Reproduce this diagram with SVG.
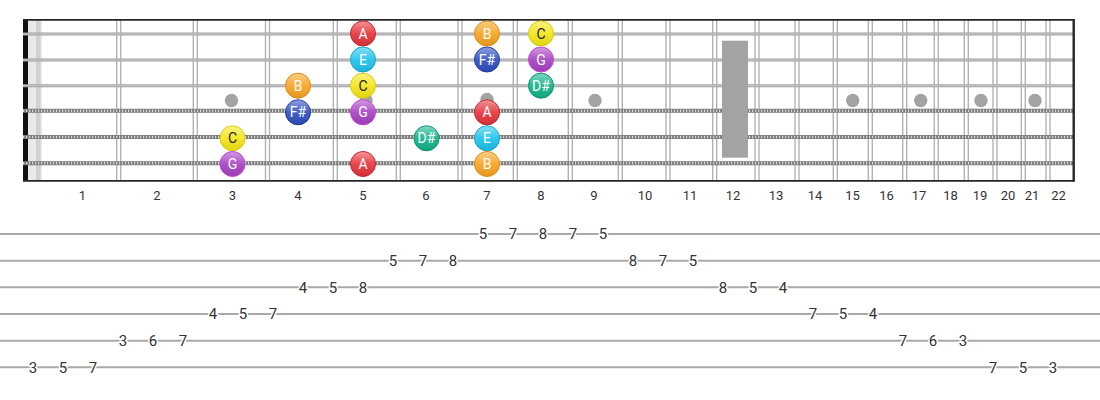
<svg xmlns="http://www.w3.org/2000/svg" width="1100" height="400" viewBox="0 0 1100 400">
<style>
.fret{stroke:#b3b3b3;stroke-width:1.4;fill:none}
.plain{stroke:#a2a2a2;stroke-width:3}
.plainhi{stroke:#d2d2d2;stroke-width:0.9}
.wound{stroke:#7a7a7a;stroke-width:4}
.woundhi{stroke:#d6d6d6;stroke-width:2.4;stroke-dasharray:1.2 1.8}
.inlay{fill:#a3a3a3}
.fnum{font-family:Roboto,"Liberation Sans",sans-serif;font-size:13px;fill:#333;text-anchor:middle}
.tabline{stroke:#a9a9a9;stroke-width:2}
.tab{font-family:Roboto,"Liberation Sans",sans-serif;font-size:15px;fill:#333;text-anchor:middle;stroke:#fff;stroke-width:3;paint-order:stroke}
.nt{font-family:Roboto,"Liberation Sans",sans-serif;font-size:14px;fill:#fff;text-anchor:middle}
.nt.dk{fill:#222}
.gloss{fill:url(#gl)}
.cA{fill:#e6363d;stroke:#c0242b;stroke-width:1}
.cB{fill:#f7a423;stroke:#dd8a10;stroke-width:1}
.cC{fill:#f4e619;stroke:#d8ca08;stroke-width:1}
.cE{fill:#20c2ec;stroke:#0fa3cc;stroke-width:1}
.cF{fill:#3150c2;stroke:#22379a;stroke-width:1}
.cG{fill:#a743c4;stroke:#cf3fd2;stroke-width:1}
.cD{fill:#14b38b;stroke:#0b9270;stroke-width:1}
</style>
<defs>
<linearGradient id="gl" x1="0" y1="0" x2="0" y2="1">
<stop offset="0" stop-color="#fff" stop-opacity="0.45"/>
<stop offset="0.5" stop-color="#fff" stop-opacity="0.08"/>
<stop offset="1" stop-color="#000" stop-opacity="0.08"/>
</linearGradient>
</defs>
<rect width="1100" height="400" fill="#fff"/>
<g id="fretboard">
<rect x="28" y="20" width="14" height="160" fill="#e9e9e9"/>
<rect x="36" y="20" width="4.5" height="160" fill="#d2d2d2"/>
<rect x="23" y="19" width="5" height="162" fill="#111"/>
<g id="frets">
<line class="fret" x1="116.7" y1="20" x2="116.7" y2="180"/><line class="fret" x1="120.7" y1="20" x2="120.7" y2="180"/>
<line class="fret" x1="193.3" y1="20" x2="193.3" y2="180"/><line class="fret" x1="197.3" y1="20" x2="197.3" y2="180"/>
<line class="fret" x1="265.5" y1="20" x2="265.5" y2="180"/><line class="fret" x1="269.5" y1="20" x2="269.5" y2="180"/>
<line class="fret" x1="333.3" y1="20" x2="333.3" y2="180"/><line class="fret" x1="337.3" y1="20" x2="337.3" y2="180"/>
<line class="fret" x1="396.3" y1="20" x2="396.3" y2="180"/><line class="fret" x1="400.3" y1="20" x2="400.3" y2="180"/>
<line class="fret" x1="458" y1="20" x2="458" y2="180"/><line class="fret" x1="462" y1="20" x2="462" y2="180"/>
<line class="fret" x1="513.3" y1="20" x2="513.3" y2="180"/><line class="fret" x1="517.3" y1="20" x2="517.3" y2="180"/>
<line class="fret" x1="568.3" y1="20" x2="568.3" y2="180"/><line class="fret" x1="572.3" y1="20" x2="572.3" y2="180"/>
<line class="fret" x1="618.3" y1="20" x2="618.3" y2="180"/><line class="fret" x1="622.3" y1="20" x2="622.3" y2="180"/>
<line class="fret" x1="666" y1="20" x2="666" y2="180"/><line class="fret" x1="670" y1="20" x2="670" y2="180"/>
<line class="fret" x1="712.7" y1="20" x2="712.7" y2="180"/><line class="fret" x1="716.7" y1="20" x2="716.7" y2="180"/>
<line class="fret" x1="755" y1="20" x2="755" y2="180"/><line class="fret" x1="759" y1="20" x2="759" y2="180"/>
<line class="fret" x1="795" y1="20" x2="795" y2="180"/><line class="fret" x1="799" y1="20" x2="799" y2="180"/>
<line class="fret" x1="833.3" y1="20" x2="833.3" y2="180"/><line class="fret" x1="837.3" y1="20" x2="837.3" y2="180"/>
<line class="fret" x1="868.3" y1="20" x2="868.3" y2="180"/><line class="fret" x1="872.3" y1="20" x2="872.3" y2="180"/>
<line class="fret" x1="902.7" y1="20" x2="902.7" y2="180"/><line class="fret" x1="906.7" y1="20" x2="906.7" y2="180"/>
<line class="fret" x1="934.3" y1="20" x2="934.3" y2="180"/><line class="fret" x1="938.3" y1="20" x2="938.3" y2="180"/>
<line class="fret" x1="964.3" y1="20" x2="964.3" y2="180"/><line class="fret" x1="968.3" y1="20" x2="968.3" y2="180"/>
<line class="fret" x1="993" y1="20" x2="993" y2="180"/><line class="fret" x1="997" y1="20" x2="997" y2="180"/>
<line class="fret" x1="1021.3" y1="20" x2="1021.3" y2="180"/><line class="fret" x1="1025.3" y1="20" x2="1025.3" y2="180"/>
<line class="fret" x1="1046" y1="20" x2="1046" y2="180"/><line class="fret" x1="1050" y1="20" x2="1050" y2="180"/>
</g>
<g id="inlays">
<circle class="inlay" cx="231.5" cy="100.5" r="6.7"/>
<circle class="inlay" cx="366" cy="100.5" r="6.7"/>
<circle class="inlay" cx="487" cy="99.5" r="6.7"/>
<circle class="inlay" cx="595" cy="100.5" r="6.7"/>
<circle class="inlay" cx="852.7" cy="100.5" r="6.7"/>
<circle class="inlay" cx="920.7" cy="100.5" r="6.7"/>
<circle class="inlay" cx="981" cy="100.5" r="6.7"/>
<circle class="inlay" cx="1035" cy="100.5" r="6.7"/>
</g>
<g id="strings">
<line class="plain" x1="23" y1="34" x2="1074" y2="34"/><line class="plainhi" x1="23" y1="34" x2="1074" y2="34"/>
<line class="plain" x1="23" y1="60" x2="1074" y2="60"/><line class="plainhi" x1="23" y1="60" x2="1074" y2="60"/>
<line class="plain" x1="23" y1="85.7" x2="1074" y2="85.7"/><line class="plainhi" x1="23" y1="85.7" x2="1074" y2="85.7"/>
<line class="wound" x1="23" y1="110.8" x2="1074" y2="110.8"/><line class="woundhi" x1="23" y1="110.8" x2="1074" y2="110.8"/>
<line class="wound" x1="23" y1="137" x2="1074" y2="137"/><line class="woundhi" x1="23" y1="137" x2="1074" y2="137"/>
<line class="wound" x1="23" y1="163.3" x2="1074" y2="163.3"/><line class="woundhi" x1="23" y1="163.3" x2="1074" y2="163.3"/>
</g>
<rect id="inlay12" x="722" y="40.7" width="26" height="117" fill="#a3a3a3"/>
<g id="border" stroke="#262626" fill="none">
<line x1="23" y1="19.8" x2="1074.5" y2="19.8" stroke-width="1.8"/>
<line x1="23" y1="180.8" x2="1074.5" y2="180.8" stroke-width="1.8"/>
<line x1="1073.7" y1="19" x2="1073.7" y2="181.5" stroke-width="2.4"/>
</g>
</g>
<g id="notes">
<g id="n-s1-f5"><circle class="cA" cx="363" cy="33.5" r="12.5"/><circle class="gloss" cx="363" cy="33.5" r="12"/><text class="nt" x="363" y="38.5">A</text></g>
<g id="n-s1-f7"><circle class="cB" cx="487" cy="33.5" r="12.5"/><circle class="gloss" cx="487" cy="33.5" r="12"/><text class="nt" x="487" y="38.5">B</text></g>
<g id="n-s1-f8"><circle class="cC" cx="541" cy="33.5" r="12.5"/><circle class="gloss" cx="541" cy="33.5" r="12"/><text class="nt dk" x="541" y="38.5">C</text></g>
<g id="n-s2-f5"><circle class="cE" cx="363" cy="59.5" r="12.5"/><circle class="gloss" cx="363" cy="59.5" r="12"/><text class="nt" x="363" y="64.5">E</text></g>
<g id="n-s2-f7"><circle class="cF" cx="487" cy="59.5" r="12.5"/><circle class="gloss" cx="487" cy="59.5" r="12"/><text class="nt" x="487" y="64.5">F#</text></g>
<g id="n-s2-f8"><circle class="cG" cx="541" cy="59.5" r="12.5"/><circle class="gloss" cx="541" cy="59.5" r="12"/><text class="nt" x="541" y="64.5">G</text></g>
<g id="n-s3-f4"><circle class="cB" cx="298" cy="85.7" r="12.5"/><circle class="gloss" cx="298" cy="85.7" r="12"/><text class="nt" x="298" y="90.7">B</text></g>
<g id="n-s3-f5"><circle class="cC" cx="363" cy="85.7" r="12.5"/><circle class="gloss" cx="363" cy="85.7" r="12"/><text class="nt dk" x="363" y="90.7">C</text></g>
<g id="n-s3-f8"><circle class="cD" cx="541" cy="85.7" r="12.5"/><circle class="gloss" cx="541" cy="85.7" r="12"/><text class="nt" x="541" y="90.7">D#</text></g>
<g id="n-s4-f4"><circle class="cF" cx="298" cy="112.3" r="12.5"/><circle class="gloss" cx="298" cy="112.3" r="12"/><text class="nt" x="298" y="117.3">F#</text></g>
<g id="n-s4-f5"><circle class="cG" cx="363" cy="112.3" r="12.5"/><circle class="gloss" cx="363" cy="112.3" r="12"/><text class="nt" x="363" y="117.3">G</text></g>
<g id="n-s4-f7"><circle class="cA" cx="487" cy="112.3" r="12.5"/><circle class="gloss" cx="487" cy="112.3" r="12"/><text class="nt" x="487" y="117.3">A</text></g>
<g id="n-s5-f3"><circle class="cC" cx="232.5" cy="138.3" r="12.5"/><circle class="gloss" cx="232.5" cy="138.3" r="12"/><text class="nt dk" x="232.5" y="143.3">C</text></g>
<g id="n-s5-f6"><circle class="cD" cx="426.5" cy="138.3" r="12.5"/><circle class="gloss" cx="426.5" cy="138.3" r="12"/><text class="nt" x="426.5" y="143.3">D#</text></g>
<g id="n-s5-f7"><circle class="cE" cx="487" cy="138.3" r="12.5"/><circle class="gloss" cx="487" cy="138.3" r="12"/><text class="nt" x="487" y="143.3">E</text></g>
<g id="n-s6-f3"><circle class="cG" cx="232.5" cy="164" r="12.5"/><circle class="gloss" cx="232.5" cy="164" r="12"/><text class="nt" x="232.5" y="169">G</text></g>
<g id="n-s6-f5"><circle class="cA" cx="363" cy="164" r="12.5"/><circle class="gloss" cx="363" cy="164" r="12"/><text class="nt" x="363" y="169">A</text></g>
<g id="n-s6-f7"><circle class="cB" cx="487" cy="164" r="12.5"/><circle class="gloss" cx="487" cy="164" r="12"/><text class="nt" x="487" y="169">B</text></g>
</g>
<g id="fret-numbers">
<text class="fnum" x="82.5" y="200">1</text>
<text class="fnum" x="157" y="200">2</text>
<text class="fnum" x="232.3" y="200">3</text>
<text class="fnum" x="298" y="200">4</text>
<text class="fnum" x="363" y="200">5</text>
<text class="fnum" x="426" y="200">6</text>
<text class="fnum" x="487" y="200">7</text>
<text class="fnum" x="541" y="200">8</text>
<text class="fnum" x="594" y="200">9</text>
<text class="fnum" x="645" y="200">10</text>
<text class="fnum" x="690" y="200">11</text>
<text class="fnum" x="733" y="200">12</text>
<text class="fnum" x="776" y="200">13</text>
<text class="fnum" x="815" y="200">14</text>
<text class="fnum" x="852.5" y="200">15</text>
<text class="fnum" x="886.5" y="200">16</text>
<text class="fnum" x="919" y="200">17</text>
<text class="fnum" x="950.5" y="200">18</text>
<text class="fnum" x="980" y="200">19</text>
<text class="fnum" x="1008" y="200">20</text>
<text class="fnum" x="1032" y="200">21</text>
<text class="fnum" x="1058.5" y="200">22</text>
</g>
<g id="tab-lines">
<line class="tabline" x1="0" y1="234" x2="1100" y2="234"/>
<line class="tabline" x1="0" y1="260.7" x2="1100" y2="260.7"/>
<line class="tabline" x1="0" y1="287.3" x2="1100" y2="287.3"/>
<line class="tabline" x1="0" y1="314" x2="1100" y2="314"/>
<line class="tabline" x1="0" y1="340.7" x2="1100" y2="340.7"/>
<line class="tabline" x1="0" y1="367.3" x2="1100" y2="367.3"/>
</g>
<g id="tab-numbers">
<text class="tab" x="33" y="372.7">3</text><text class="tab" x="63" y="372.7">5</text><text class="tab" x="93" y="372.7">7</text>
<text class="tab" x="123" y="346.1">3</text><text class="tab" x="153" y="346.1">6</text><text class="tab" x="183" y="346.1">7</text>
<text class="tab" x="213" y="319.4">4</text><text class="tab" x="243" y="319.4">5</text><text class="tab" x="273" y="319.4">7</text>
<text class="tab" x="303" y="292.7">4</text><text class="tab" x="333" y="292.7">5</text><text class="tab" x="363" y="292.7">8</text>
<text class="tab" x="393" y="266.1">5</text><text class="tab" x="423" y="266.1">7</text><text class="tab" x="453" y="266.1">8</text>
<text class="tab" x="483" y="239.4">5</text><text class="tab" x="513" y="239.4">7</text><text class="tab" x="543" y="239.4">8</text><text class="tab" x="573" y="239.4">7</text><text class="tab" x="603" y="239.4">5</text>
<text class="tab" x="633" y="266.1">8</text><text class="tab" x="663" y="266.1">7</text><text class="tab" x="693" y="266.1">5</text>
<text class="tab" x="723" y="292.7">8</text><text class="tab" x="753" y="292.7">5</text><text class="tab" x="783" y="292.7">4</text>
<text class="tab" x="813" y="319.4">7</text><text class="tab" x="843" y="319.4">5</text><text class="tab" x="873" y="319.4">4</text>
<text class="tab" x="903" y="346.1">7</text><text class="tab" x="933" y="346.1">6</text><text class="tab" x="963" y="346.1">3</text>
<text class="tab" x="993" y="372.7">7</text><text class="tab" x="1023" y="372.7">5</text><text class="tab" x="1053" y="372.7">3</text>
</g>
</svg>
